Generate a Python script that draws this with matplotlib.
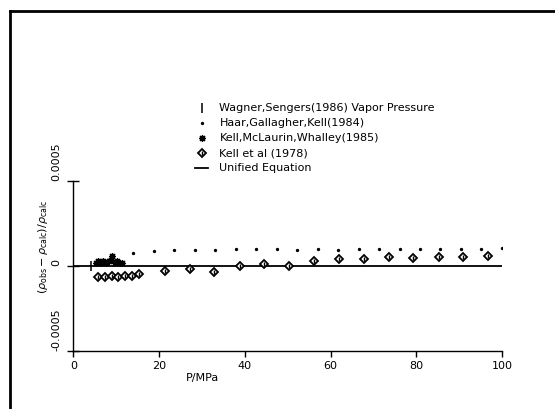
import matplotlib.pyplot as plt
from matplotlib.lines import Line2D

# Wagner, Sengers (1986) vapor pressure point
vp_x = [4.2]
vp_y = [0.0]

# Haar, Gallagher, Kell (1984)
hgk_x = [14.0, 18.7, 23.5, 28.3, 33.0, 37.9, 42.6, 47.4, 52.2, 57.0, 61.8,
         66.6, 71.4, 76.1, 80.9, 85.6, 90.4, 95.2, 100.1]
hgk_y = [0.000078, 0.000088, 0.000092, 0.000096, 0.000097, 0.000098, 0.000098,
         0.000098, 0.000097, 0.000098, 0.000097, 0.000098, 0.000098, 0.000099,
         0.000098, 0.000099, 0.000099, 0.0001, 0.000104]

# Kell, McLaurin, Whalley (1985)
kmw_x = [5.2, 5.8, 6.4, 7.0, 7.6, 8.2, 8.8, 9.0, 9.6, 10.2, 10.8, 11.4]
kmw_y = [0.00002, 0.00003, 0.000015, 0.00003, 0.00002, 0.00003, 0.000035,
         0.00006, 0.00002, 0.00003, 0.00002, 0.00002]

# Kell et al (1978)
kell_x = [5.8, 7.4, 8.9, 10.5, 12.0, 13.6, 15.4, 21.4, 27.2, 32.9, 38.9,
          44.5, 50.4, 56.2, 61.9, 67.8, 73.6, 79.3, 85.2, 91.0, 96.7]
kell_y = [-0.000063, -0.000065, -0.00006, -0.000063, -0.000058, -0.00006,
          -0.000047, -0.000027, -0.00002, -0.000035, 0.0, 0.000012, 0.0,
          0.000028, 0.000043, 0.000041, 0.000053, 0.000049, 0.000051,
          0.000055, 0.000059]

# unified equation (zero line)
eq_x = [0, 100]
eq_y = [0, 0]

labels = ['Wagner,Sengers(1986) Vapor Pressure', 'Haar,Gallagher,Kell(1984)',
          'Kell,McLaurin,Whalley(1985)', 'Kell et al (1978)', 'Unified Equation']

plt.rcParams['font.family'] = 'DejaVu Sans'

fig = plt.figure(figsize=(5.55, 4.09), dpi=100)
ax = fig.add_axes([0.1324, 0.1418, 0.772, 0.4156])

h5, = ax.plot(eq_x, eq_y, color='black', lw=1.3)
h1, = ax.plot(vp_x, vp_y, ls='none', marker='|', ms=7, mew=1.1, color='black')
h2, = ax.plot(hgk_x, hgk_y, ls='none', marker='.', ms=2.8, color='black')
h3, = ax.plot(kmw_x, kmw_y, ls='none', marker=(8, 2, 0), ms=5, mew=0.9, color='black')
h4, = ax.plot(kell_x, kell_y, ls='none', marker='D', ms=4.2, mew=1.3,
              mfc='white', mec='black')
h4b, = ax.plot(kell_x, kell_y, ls='none', marker='|', ms=2.2, mew=1.0, color='black')

ax.set_xlim(0, 100)
ax.set_ylim(-0.0005, 0.0005)
ax.set_xticks([0, 20, 40, 60, 80, 100])
ax.set_yticks([-0.0005, 0, 0.0005])
ax.set_yticklabels(['-0.0005', '0', '0.0005'], rotation=90, va='bottom')
ax.tick_params(axis='x', direction='out', length=4.5, width=1, labelsize=8, pad=3)
ax.tick_params(axis='y', direction='inout', length=9, width=1, labelsize=8, pad=4)
for s in ['top', 'right']:
    ax.spines[s].set_visible(False)
for s in ['left', 'bottom']:
    ax.spines[s].set_linewidth(1)

ax.set_xlabel('P/MPa', fontsize=8)
ax.xaxis.set_label_coords(0.30, -0.129)
fig.text(43 / 555, 1 - 247 / 409,
         r'$(\rho_{\mathrm{obs}}-\rho_{\mathrm{calc}})/\rho_{\mathrm{calc}}$',
         rotation=90, ha='center', va='center', fontsize=8)

ax.legend([h1, h2, h3, (h4, h4b), h5], labels, loc='upper left',
          bbox_to_anchor=(195 / 555, 1 - 103.5 / 409), bbox_transform=fig.transFigure,
          frameon=False, fontsize=8, borderpad=0, borderaxespad=0,
          handlelength=1.2, handletextpad=1.0, labelspacing=0.45)

# border of the scanned page
fig.add_artist(Line2D([9.5 / 555, 1], [1 - 11 / 409, 1 - 11 / 409], color='black', lw=2))
fig.add_artist(Line2D([9.5 / 555, 9.5 / 555], [0, 1 - 11 / 409], color='black', lw=2))

fig.savefig('out.png', dpi=100)
